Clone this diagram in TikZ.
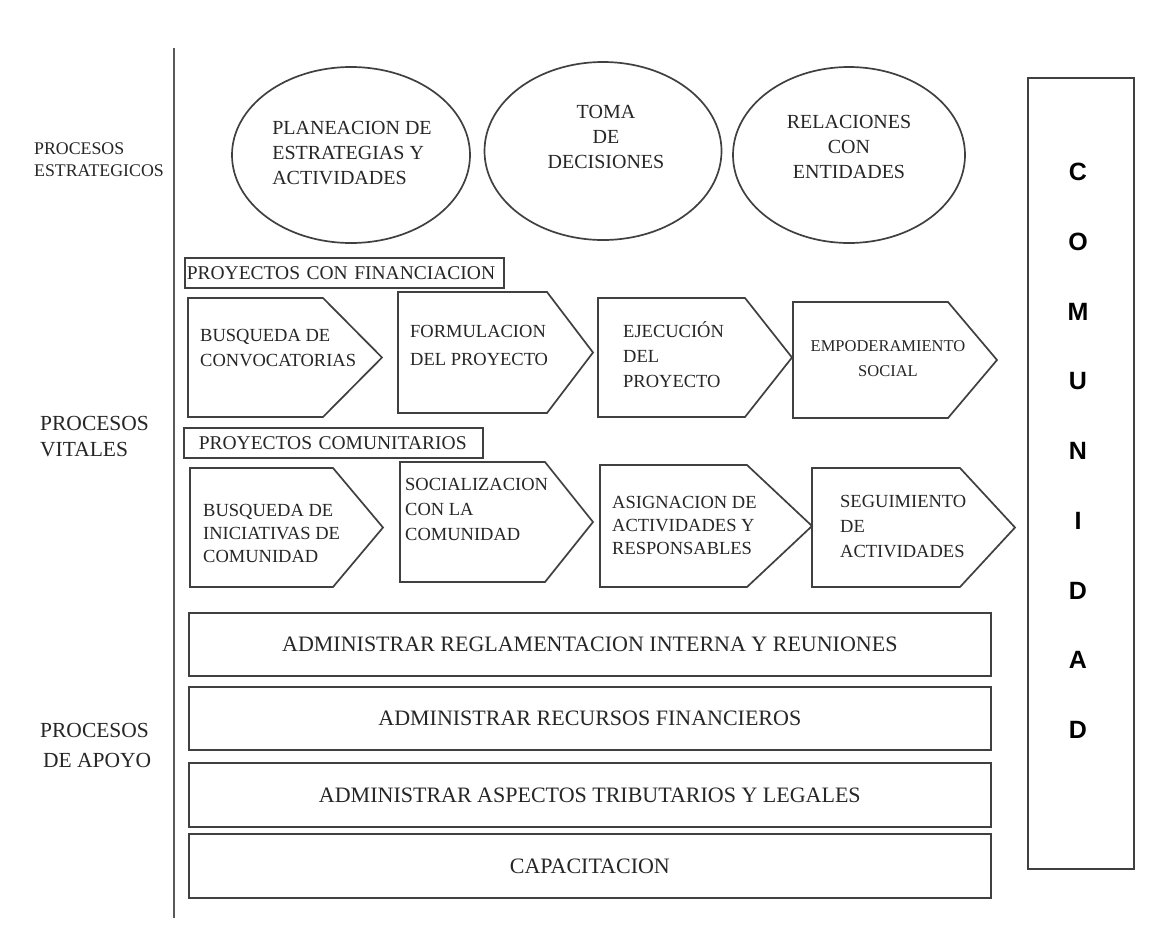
\documentclass[tikz,border=0pt]{standalone}
\usepackage{fontspec}
\setmainfont{Liberation Serif}
\newfontfamily\comfont{Liberation Sans}
\usetikzlibrary{shapes.geometric}
\newcommand\fsz[2]{\fontsize{#1}{#2}\selectfont}
% chevron step: name, left, top, right of the box part, tip, bottom
\newcommand\chev[6]{%
  \draw[shp] (#2,#3) coordinate (#1-nw) -- (#4,#3) -- (#5,{(#3+#6)/2}) coordinate (#1-tip)
    -- (#4,#6) -- (#2,#6) coordinate (#1-sw) -- cycle;}
\tikzset{
  shp/.style={draw=black!75, line width=1.7pt},
  lbl/.style={text=black!85, inner sep=0pt, align=left, anchor=west},
  steptxt/.style={lbl, font=\fsz{18.5}{25}},
  ell/.style={shp, ellipse, inner sep=0pt},
  etxt/.style={text=black!85, inner sep=0pt, font=\fsz{20}{25}},
  hdr/.style={shp, line width=1.5pt, anchor=north west, minimum height=30pt, inner xsep=0pt,
              text=black!85, font=\fsz{19.5}{22}},
  bar/.style={shp, anchor=north west, minimum width=802pt, text=black!85, font=\fsz{22}{24}},
}
\begin{document}
\begin{tikzpicture}[x=1pt,y=-1pt]
\useasboundingbox (0,0) rectangle (1174,932);
\fill[white] (0,0) rectangle (1174,932);

% divider between the process labels and the map
\coordinate (vtop) at (174,48);
\coordinate (vbot) at (174,918);
\draw[draw=black!65, line width=2pt] (vtop) -- (vbot);

% process group labels
\node[lbl, font=\fsz{17.8}{22}] (estr) at (34,160) {PROCESOS\\ESTRATEGICOS};
\node[lbl, font=\fsz{21.5}{26}] (vit) at (40,437) {PROCESOS\\VITALES};
\node[lbl, font=\fsz{21.5}{30}] (apo) at (40,745) {PROCESOS\\\hspace*{3pt}DE APOYO};

% strategic processes
\node[ell, minimum width=238pt, minimum height=176pt] (e1) at (351,155) {};
\node[etxt, align=left] (e1t) at (352,153) {PLANEACION DE\\ESTRATEGIAS Y\\ACTIVIDADES};
\node[ell, minimum width=237pt, minimum height=178pt] (e2) at (603,151) {};
\node[etxt, align=center] (e2t) at (606,137) {TOMA\\DE\\DECISIONES};
\node[ell, minimum width=232pt, minimum height=176pt] (e3) at (849,155) {};
\node[etxt, align=center] (e3t) at (849,147) {RELACIONES\\CON\\ENTIDADES};

% community column
\node[shp, anchor=north west, minimum width=106pt, minimum height=791pt] (com) at (1027,77) {};
\node[inner sep=0pt, font=\comfont\bfseries\fsz{25}{69.75}, align=center] (comt) at (1078,451)
  {C\\O\\M\\U\\N\\I\\D\\A\\D};

% funded projects
\node[hdr, minimum width=318pt, align=left, text width=315pt, inner xsep=2pt] (hfin) at (184,257)
  {PROYECTOS CON FINANCIACION};
\chev{f1}{188}{298}{323}{382}{417}
\chev{f2}{398}{292}{547}{593}{413}
\chev{f3}{598}{298}{745}{792}{417}
\chev{f4}{793}{302}{948}{997}{418}
\node[steptxt] (f1t) at (200,348) {BUSQUEDA DE\\CONVOCATORIAS};
\node[steptxt, font=\fsz{18.5}{28}] (f2t) at (410,345) {FORMULACION\\DEL PROYECTO};
\node[steptxt] (f3t) at (623,355) {EJECUCIÓN\\DEL\\PROYECTO};
\node[steptxt, anchor=center, align=center, font=\fsz{16.5}{25}] (f4t) at (888,359)
  {EMPODERAMIENTO\\SOCIAL};

% community projects
\node[hdr, minimum width=299pt, align=left, text width=289pt, inner xsep=0pt] (hcom) at (183,427)
  {\hspace*{10pt}PROYECTOS COMUNITARIOS};
\chev{c1}{190}{468}{333}{383}{587}
\chev{c2}{400}{462}{545}{593}{582}
\chev{c3}{600}{465}{747}{812}{587}
\chev{c4}{812}{468}{960}{1015}{587}
\node[steptxt, font=\fsz{18.5}{23}] (c1t) at (203,533) {BUSQUEDA DE\\INICIATIVAS DE\\COMUNIDAD};
\node[steptxt] (c2t) at (405,509) {SOCIALIZACION\\CON LA\\COMUNIDAD};
\node[steptxt, font=\fsz{18.5}{23}] (c3t) at (612,525) {ASIGNACION DE\\ACTIVIDADES Y\\RESPONSABLES};
\node[steptxt] (c4t) at (840,527) {SEGUIMIENTO\\DE\\ACTIVIDADES};

% support processes
\node[bar, minimum height=63pt] (b1) at (188,612) {ADMINISTRAR REGLAMENTACION INTERNA Y REUNIONES};
\node[bar, minimum height=63pt] (b2) at (188,686) {ADMINISTRAR RECURSOS FINANCIEROS};
\node[bar, minimum height=64pt] (b3) at (188,762) {ADMINISTRAR ASPECTOS TRIBUTARIOS Y LEGALES};
\node[bar, minimum height=64pt] (b4) at (188,833) {CAPACITACION};
\end{tikzpicture}
\end{document}
